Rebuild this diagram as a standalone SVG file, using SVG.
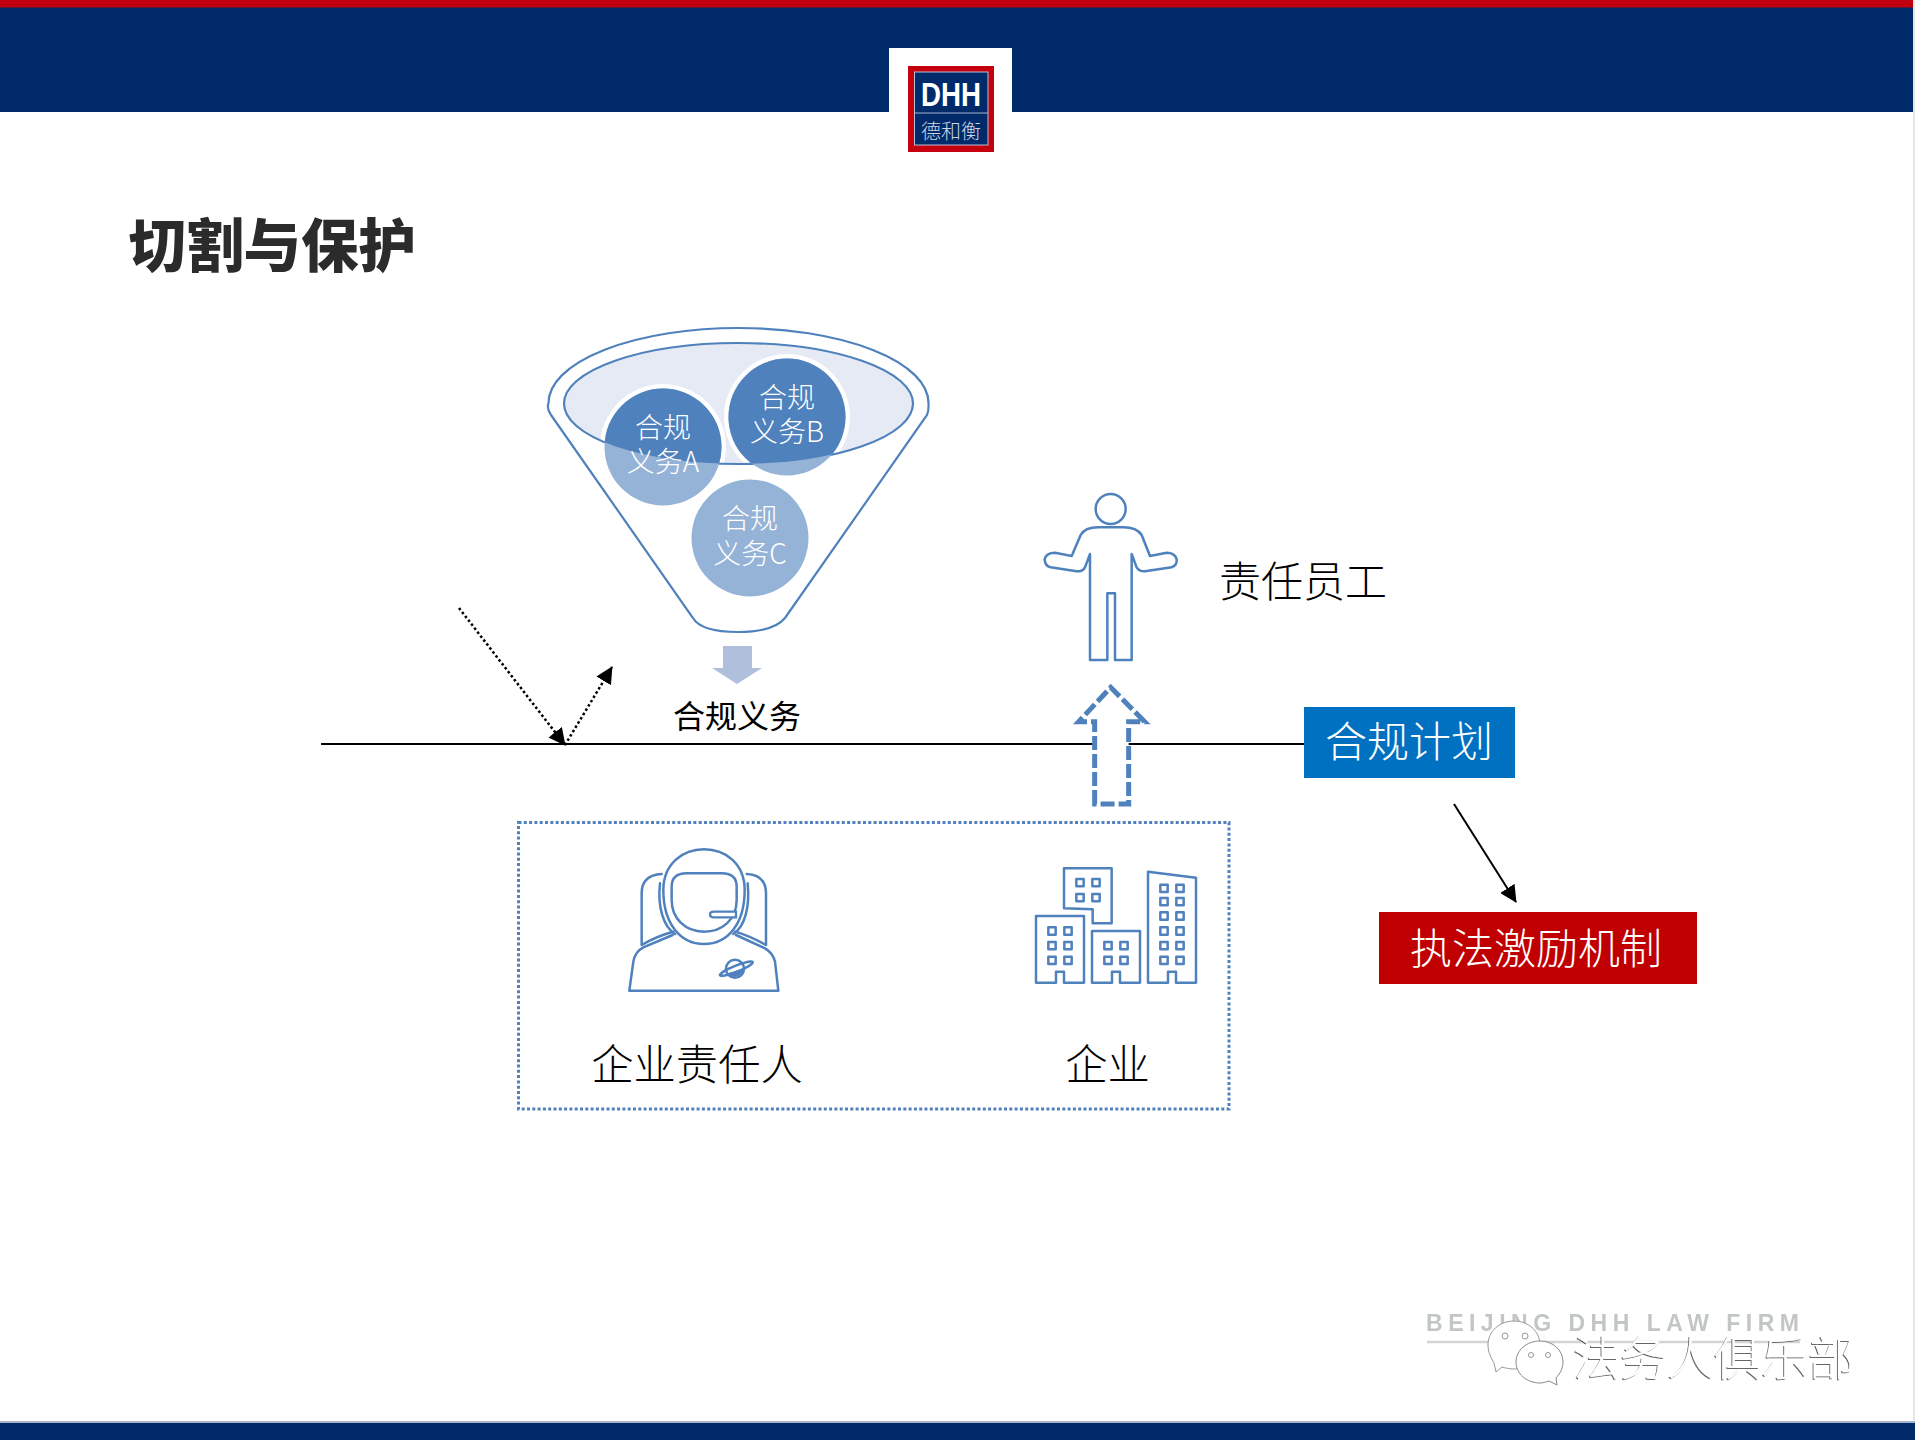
<svg xmlns="http://www.w3.org/2000/svg" width="1915" height="1440" viewBox="0 0 1915 1440">
<style>
.cjk{font-family:"Noto Sans CJK SC","Noto Sans",sans-serif}
.lt{font-weight:300}
.w{fill:#fff}
.c{text-anchor:middle}
.ic{fill:none;stroke:#4f81bd;stroke-width:7.5;stroke-linejoin:round;stroke-linecap:round}
.ln{fill:#fff;stroke:#4f81bd;stroke-width:2.2}
.conn{fill:none;stroke:#000;stroke-width:2}
.dot{stroke-width:2.5;stroke-dasharray:2.5 2.5}
</style>
<defs>
<marker id="ah" viewBox="0 0 10 10" refX="9.500" refY="5" markerWidth="17" markerHeight="17" orient="auto" markerUnits="userSpaceOnUse"><path d="M0 0L10 5L0 10Z" fill="#000"/></marker>
<clipPath id="ellc"><ellipse cx="738.5" cy="403.5" rx="174.5" ry="60.5"/></clipPath>
<filter id="emb" x="-5%" y="-5%" width="110%" height="110%"><feOffset in="SourceAlpha" dx="-0.8" dy="0.8" result="o"/><feFlood flood-color="#666"/><feComposite in2="o" operator="in" result="s"/><feMerge><feMergeNode in="s"/><feMergeNode in="SourceGraphic"/></feMerge></filter>
<filter id="soft"><feGaussianBlur stdDeviation="0.7"/></filter>
</defs>
<rect width="1915" height="1440" fill="#fff"/>
<g id="header">
<rect width="1915" height="112" fill="#012a6b"/>
<rect y="0" width="1915" height="7.5" fill="#c0000f"/>
<rect x="889" y="48" width="123" height="66" fill="#fff"/>
</g>
<g id="logo">
<rect x="908" y="66" width="86" height="86" fill="#c4000f"/>
<rect x="914.5" y="72" width="73.5" height="73" fill="#012a6b" stroke="#b6bfd3" stroke-width="1"/>
<line x1="915" x2="988" y1="113" y2="113" stroke="#a9b4cc" stroke-width="1"/>
<text x="921" y="106" font-family="Liberation Sans, sans-serif" font-weight="700" font-size="33" fill="#fff" textLength="60" lengthAdjust="spacingAndGlyphs">DHH</text>
<text x="951" y="139" class="cjk c lt" font-size="20" fill="#cfd6e4">德和衡</text>
</g>
<g id="title"><text x="128.500" y="267" class="cjk" font-weight="900" font-size="57.500" fill="#2b2b2b">切割与保护</text></g>
<g id="funnel">
<path class="ln" d="M551 415C546 408 548.500 403 548.500 403A190 75 0 0 1 928.500 403C928.500 407 929 411 927 415L785 618C775 630 755 632 738 632C720 632 700 630 693 618Z"/>
<ellipse cx="738.500" cy="403.500" rx="174.500" ry="60.500" fill="#e6eaf4"/>
<g clip-path="url(#ellc)"><circle cx="663" cy="447" r="63" fill="#fff"/><circle cx="787" cy="417" r="63" fill="#fff"/></g>
<ellipse cx="738.500" cy="403.500" rx="174.500" ry="60.500" fill="none" stroke="#4f81bd" stroke-width="2.200"/>
<circle cx="663" cy="447" r="58.500" fill="#95b3d7"/>
<circle cx="787" cy="417" r="58.500" fill="#95b3d7"/>
<circle cx="750" cy="538" r="58.500" fill="#95b3d7"/>
<g clip-path="url(#ellc)"><circle cx="663" cy="447" r="58.500" fill="#4f81bd"/><circle cx="787" cy="417" r="58.500" fill="#4f81bd"/></g>
<g class="cjk lt w c" font-size="28">
<text x="663" y="438">合规</text><text x="663" y="472">义务A</text>
<text x="787" y="408">合规</text><text x="787" y="442">义务B</text>
<text x="750" y="529">合规</text><text x="750" y="564">义务C</text>
</g>
<path d="M723 646H752V668H762L737 684L712 668H723Z" fill="#b0c0dc"/>
<text x="737" y="728" class="cjk c" font-size="32" fill="#000">合规义务</text>
</g>
<g id="connectors">
<line class="conn" x1="321" y1="744" x2="1304" y2="744"/>
<line class="conn dot" x1="459" y1="608" x2="565" y2="745" marker-end="url(#ah)"/>
<line class="conn dot" x1="565" y1="745" x2="612" y2="667" marker-end="url(#ah)"/>
<line class="conn" x1="1454" y1="804" x2="1516" y2="902" marker-end="url(#ah)"/>
</g>
<g id="person">
<g transform="translate(1020 480) scale(.33333)">
<circle class="ic" cx="272" cy="87" r="45"/>
<path class="ic" d="M210 222V540H262V340H285V540H335V222L350 262Q358 275 375 274L455 262Q472 255 470 238Q465 218 440 218L390 228L365 165Q350 142 310 142H235Q195 142 182 165L155 228L105 218Q78 218 74 238Q75 258 92 262L170 274Q188 275 195 262Z"/>
<path d="M224 972V725H176L272 622L374 725H326V972Z" fill="#fff" stroke="#4f81bd" stroke-width="15" stroke-dasharray="42 12"/>
</g>
<text x="1219" y="597" class="cjk lt" font-size="42" fill="#000">责任员工</text>
</g>
<g id="plan"><rect x="1304" y="707" width="211" height="71" fill="#0070c0"/><text x="1409" y="757" class="cjk lt w c" font-size="42">合规计划</text></g>
<g id="incentive"><rect x="1379" y="912" width="318" height="72" fill="#c00000"/><text x="1536" y="964" class="cjk lt w c" font-size="42">执法激励机制</text></g>
<g id="group-box"><rect x="518.500" y="822.500" width="710.500" height="286.500" fill="none" stroke="#4f81bd" stroke-width="3" stroke-dasharray="3 2.300"/></g>
<g id="responsible">
<g transform="translate(600 830) scale(.33333)">
<path class="ic" d="M190 180C190 100 250 58 312 58C375 58 434 100 434 180C434 280 385 342 312 342C240 342 190 280 190 180Z"/>
<path class="ic" d="M215 170Q215 130 260 130H365Q410 130 410 170V210C410 270 365 305 312 305C255 305 215 265 215 210Z"/>
<path d="M342 245H408V262H342Q330 262 330 254Q330 245 342 245Z" fill="#fff" stroke="#4f81bd" stroke-width="7"/>
<path class="ic" d="M185 132Q125 135 125 190V345Q170 318 220 305M440 132Q498 135 498 190V345Q450 318 405 305"/>
<path class="ic" d="M180 160C172 230 190 290 225 312M443 160C450 230 435 290 400 312"/>
<path class="ic" d="M88 482H535L525 395Q520 370 495 355L408 315M88 482L100 395Q105 365 130 352L218 315"/>
<circle class="ic" cx="405" cy="416" r="27"/>
<path d="M382 430A27 27 0 0 0 430 418Z" fill="#4f81bd"/>
<ellipse class="ic" cx="409" cy="416" rx="53" ry="9" transform="rotate(-22 409 416)"/>
</g>
<text x="697" y="1080" class="cjk lt c" font-size="42.300" fill="#000">企业责任人</text>
</g>
<g id="company">
<g transform="translate(1020 850) scale(.33333)">
<path class="ic" d="M132 175V55H275V220H218V178ZM48 398V198H192V398H132V365H108V398ZM216 398V243H360V398H300V365H276V398ZM384 398V65L528 83V398H468V365H444V398Z" stroke-linecap="butt" stroke-linejoin="miter"/>
<path class="ic" stroke-linejoin="miter" d="M169 87h22v22h-22zM217 87h22v22h-22zM169 132h22v22h-22zM217 132h22v22h-22zM85 232h22v22h-22zM133 232h22v22h-22zM85 276h22v22h-22zM133 276h22v22h-22zM85 320h22v22h-22zM133 320h22v22h-22zM253 276h22v22h-22zM301 276h22v22h-22zM253 320h22v22h-22zM301 320h22v22h-22zM421 104h22v22h-22zM469 104h22v22h-22zM421 144h22v22h-22zM469 144h22v22h-22zM421 187h22v22h-22zM469 187h22v22h-22zM421 232h22v22h-22zM469 232h22v22h-22zM421 276h22v22h-22zM469 276h22v22h-22zM421 320h22v22h-22zM469 320h22v22h-22z"/>
</g>
<text x="1107.500" y="1080" class="cjk lt c" font-size="42.300" fill="#000">企业</text>
</g>
<g id="footer">
<rect y="1421" width="1915" height="2" fill="#aab4cb"/>
<rect y="1423" width="1915" height="17" fill="#012a6b"/>
<rect x="1913" y="0" width="2" height="1421" fill="#e6e6e6"/>
<g filter="url(#soft)"><text x="1426" y="1331" font-family="Liberation Sans, sans-serif" font-weight="700" font-size="23" fill="#c2c6c6" textLength="373">BEIJING DHH LAW FIRM</text>
<line x1="1427" x2="1800" y1="1342" y2="1342" stroke="#d4d4d4" stroke-width="2.500"/></g>
</g>
<g id="watermark">
<path d="M1488 1345C1488 1331 1500 1321 1514 1321C1528 1321 1540 1331 1540 1345C1540 1359 1528 1369 1514 1369C1510 1369 1505 1368 1502 1367L1496 1372L1494 1363C1491 1358 1488 1352 1488 1345Z" fill="#fff" stroke="#999" stroke-width="1"/>
<path d="M1516 1362C1516 1350 1527 1341 1540 1341C1553 1341 1563 1350 1563 1362C1563 1368 1560 1374 1556 1378L1557 1385L1549 1381C1546 1382 1543 1383 1540 1383C1527 1383 1516 1374 1516 1362Z" fill="#fff" stroke="#888" stroke-width="1"/>
<g fill="#fff" stroke="#999" stroke-width="1"><circle cx="1505" cy="1336" r="3"/><circle cx="1525" cy="1336" r="3"/><circle cx="1531" cy="1355" r="2.500"/><circle cx="1548" cy="1355" r="2.500"/></g>
<text x="1573" y="1375" class="cjk" font-weight="300" font-size="47" fill="#fff" filter="url(#emb)">法务人俱乐部</text>
</g>
</svg>
